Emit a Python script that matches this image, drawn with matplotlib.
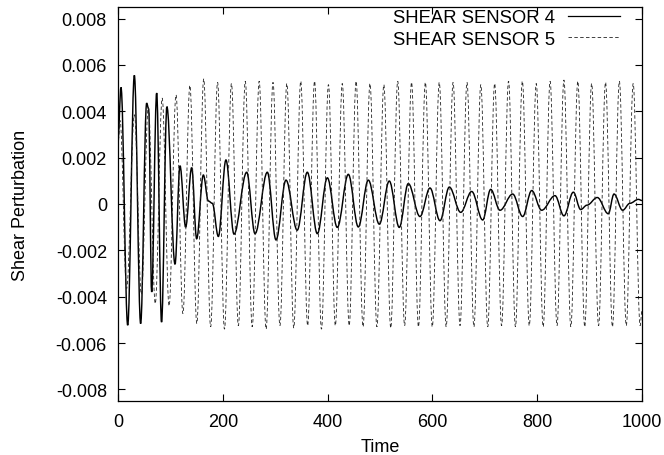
import matplotlib
matplotlib.use("Agg")
import matplotlib.pyplot as plt
from matplotlib.path import Path
from matplotlib.patches import PathPatch
from matplotlib.lines import Line2D

plt.rcParams["font.family"] = ["Liberation Sans", "DejaVu Sans"]
plt.rcParams["axes.unicode_minus"] = False
plt.rcParams["lines.scale_dashes"] = False

# turning points (time, value * 1e-3)
sensor4_time = [0, 5.7, 18.5, 31.2, 43.2, 54.7, 58.5, 64.2, 73.8, 83.1, 93.3,
                108.8, 118.3, 129.1, 140.6, 150.1, 162.9, 172.4, 180.0, 191.5,
                206.0, 221.4, 245.6, 261.5, 285.0, 301.5, 320.6, 342.0, 361.3,
                380.4, 399.5, 418.5, 439.6, 458.6, 477.7, 498.7, 517.7, 536.8,
                554.0, 576.3, 595.4, 614.5, 632.3, 654.0, 675.0, 696.0, 711.2,
                729.0, 753.2, 772.3, 789.5, 808.5, 834.0, 851.0, 869.0, 883.0,
                895.0, 914.7, 935.7, 946.6, 963.0, 977.0, 993.0, 1000]
sensor4_value = [2.8, 5.03, -5.23, 5.55, -5.16, 4.35, 4.1, -3.8, 4.79, -5.1, 4.2,
                 -2.6, 1.65, -1.0, 1.57, -1.5, 1.25, 0.13, 0.03, -1.4,
                 1.9, -1.3, 1.37, -1.28, 1.37, -1.55, 1.03, -1.13, 1.37,
                 -1.28, 1.13, -1.01, 1.28, -0.99, 1.03, -0.87, 0.99, -1.01,
                 0.88, -0.54, 0.69, -0.72, 0.73, -0.36, 0.54, -0.69, 0.63,
                 -0.27, 0.43, -0.54, 0.58, -0.27, 0.36, -0.51, 0.51, -0.24,
                 -0.05, 0.28, -0.42, 0.43, -0.27, 0.03, 0.2, 0.15]

sensor5_time = [0, 4.0, 16.4, 31.4, 44.6, 57.9, 71.1, 84.3, 97.5, 110.7, 123.9,
                137.2, 150.4, 163.6, 176.8, 190.0, 203.2, 216.5, 229.7, 242.9,
                256.1, 269.4, 282.6, 295.8, 309.0, 322.2, 335.4, 348.7, 361.9,
                375.1, 388.3, 401.6, 414.8, 428.0, 441.2, 454.4, 467.6, 480.9,
                494.1, 507.3, 520.5, 533.8, 547.0, 560.2, 573.4, 586.6, 599.8,
                613.1, 626.3, 639.5, 652.7, 666.0, 679.2, 692.4, 705.6, 718.8,
                732.0, 745.3, 758.5, 771.7, 784.9, 798.2, 811.4, 824.6, 837.8,
                851.0, 864.2, 877.5, 890.7, 903.9, 917.1, 930.4, 943.6, 956.8,
                970.0, 983.2, 996.4, 1000]
sensor5_value = [2.5, 3.6, -3.65, 3.85, -3.9, 4.17, -4.3, 4.57, -4.4, 4.71, -4.73,
                 5.12, -5.16, 5.4, -5.3, 5.25, -5.4, 5.2, -5.25, 5.3,
                 -5.3, 5.3, -5.4, 5.25, -5.25, 5.2, -5.35, 5.3, -5.25,
                 5.3, -5.4, 5.15, -5.25, 5.2, -5.25, 5.3, -5.3, 5.2,
                 -5.3, 5.15, -5.35, 5.3, -5.25, 5.25, -5.3, 5.25, -5.3,
                 5.25, -5.3, 5.25, -5.25, 5.25, -5.3, 5.15, -5.3, 5.2,
                 -5.25, 5.3, -5.3, 5.3, -5.25, 5.2, -5.3, 5.3, -5.25,
                 5.35, -5.3, 5.3, -5.3, 5.2, -5.25, 5.25, -5.3, 5.3,
                 -5.25, 5.2, -5.25, -4.6]

y_ticks = [-0.008, -0.006, -0.004, -0.002, 0, 0.002, 0.004, 0.006, 0.008]
y_labels = ["-0.008", "-0.006", "-0.004", "-0.002", "0",
            "0.002", "0.004", "0.006", "0.008"]
x_ticks = [0, 200, 400, 600, 800, 1000]


def smooth_path(times, values):
    # bezier segments between turning points, flat at each turning point
    verts = [(times[0], values[0] * 1e-3)]
    codes = [Path.MOVETO]
    for i in range(1, len(times)):
        t0, t1 = times[i - 1], times[i]
        v0, v1 = values[i - 1] * 1e-3, values[i] * 1e-3
        d = 0.3642 * (t1 - t0)
        verts += [(t0 + d, v0), (t1 - d, v1), (t1, v1)]
        codes += [Path.CURVE4] * 3
    return Path(verts, codes)


def main():
    fig = plt.figure(figsize=(6.64, 4.56), dpi=100)
    ax = fig.add_axes([118 / 664, 1 - 402 / 456, 524 / 664, 394 / 456])

    ax.add_patch(PathPatch(smooth_path(sensor4_time, sensor4_value),
                           fill=False, edgecolor="black", lw=1.05))
    ax.add_patch(PathPatch(smooth_path(sensor5_time, sensor5_value),
                           fill=False, edgecolor="#222222", lw=0.6,
                           linestyle=(0, (2.5, 1.7))))

    ax.set_xlim(0, 1000)
    ax.set_ylim(-0.0085, 0.0085)
    ax.set_xticks(x_ticks)
    ax.set_yticks(y_ticks)
    ax.set_yticklabels(y_labels)
    ax.tick_params(direction="in", top=True, right=True, length=5, width=0.8,
                   labelsize=13)
    ax.tick_params(axis="y", pad=8)
    ax.tick_params(axis="x", pad=8.5)
    for sp in ax.spines.values():
        sp.set_linewidth(0.9)

    fig.text(21 / 664, 1 - 205 / 456, "Shear Perturbation", rotation=90,
             ha="center", va="center", fontsize=13)
    fig.text(380 / 664, 1 - 452 / 456, "Time", ha="center", va="baseline",
             fontsize=13)

    handles = [Line2D([], [], color="black", lw=0.9),
               Line2D([], [], color="#222222", lw=0.6, dashes=(2.5, 1.7))]
    ax.legend(handles, ["SHEAR SENSOR 4", "SHEAR SENSOR 5"],
              loc="upper right", bbox_to_anchor=(620 / 664, 1 - 10 / 456),
              bbox_transform=fig.transFigure, frameon=False, markerfirst=False,
              fontsize=13.3, handlelength=2.8, handletextpad=0.7,
              labelspacing=0.25, borderpad=0, borderaxespad=0)

    fig.savefig("out.png", dpi=100)


if __name__ == '__main__':
    main()
